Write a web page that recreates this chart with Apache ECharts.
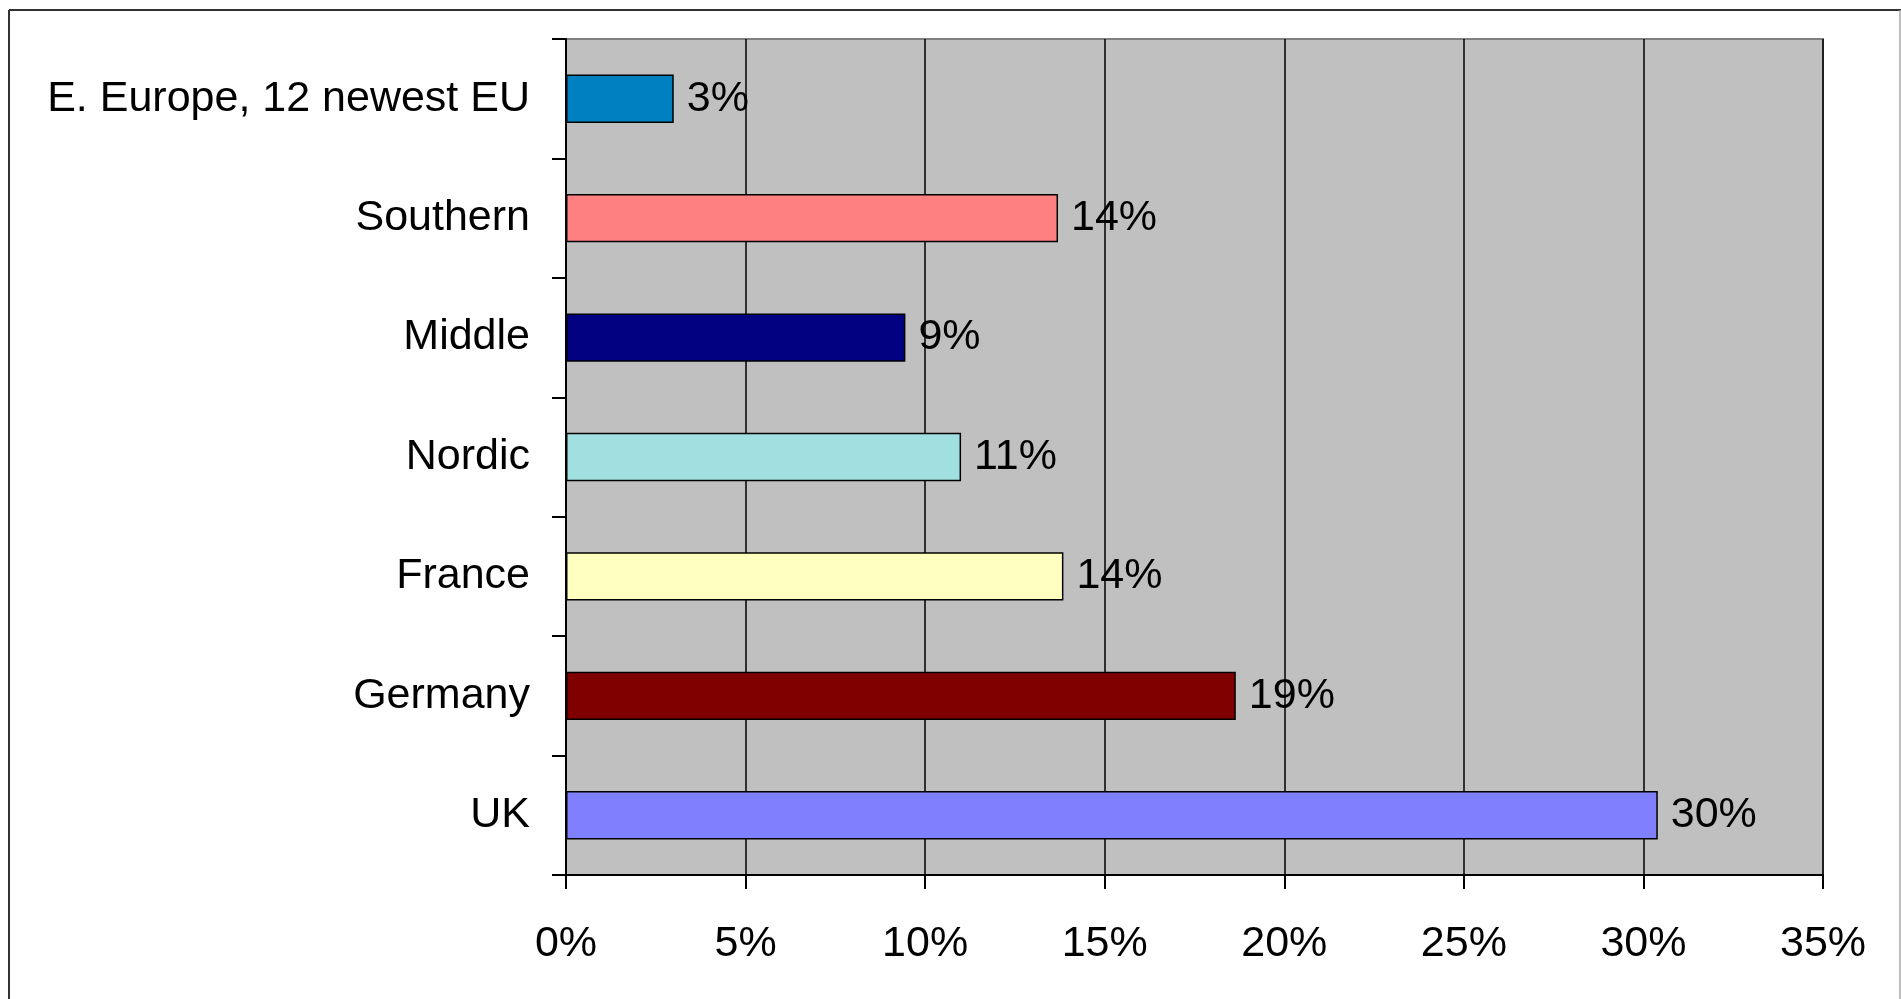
<!DOCTYPE html>
<html>
<head>
<meta charset="utf-8">
<script src="https://cdn.jsdelivr.net/npm/echarts@6/dist/echarts.min.js"></script>
<style>
html,body{margin:0;padding:0;background:#fff;}
#chart{width:1901px;height:999px;}
</style>
</head>
<body>
<div id="chart"></div>
<script>
const categories = ['E. Europe, 12 newest EU', 'Southern', 'Middle', 'Nordic', 'France', 'Germany', 'UK'];
const values = [3.0, 13.7, 9.45, 11.0, 13.85, 18.65, 30.4];
const barColors = ['#0080C0', '#FF8080', '#000080', '#A0E0E0', '#FFFFC0', '#800000', '#8080FF'];
const xTicks = { min: 0, max: 35, interval: 5 };

const chart = echarts.init(document.getElementById('chart'));
const FONT = 'Liberation Sans, Arial, sans-serif';
chart.setOption({
  animation: false,
  backgroundColor: '#ffffff',
  graphic: [
    { type: 'line', shape: { x1: 9, y1: 10, x2: 1901, y2: 10 }, style: { stroke: '#333', lineWidth: 2 } },
    { type: 'line', shape: { x1: 9, y1: 10, x2: 9, y2: 999 }, style: { stroke: '#333', lineWidth: 2 } },
    { type: 'line', shape: { x1: 1900, y1: 10, x2: 1900, y2: 999 }, style: { stroke: '#aaa', lineWidth: 1.5 } }
  ],
  grid: {
    left: 566, top: 39, width: 1257, height: 836,
    show: true, backgroundColor: '#C0C0C0', borderColor: '#808080', borderWidth: 2
  },
  xAxis: {
    type: 'value',
    min: xTicks.min, max: xTicks.max, interval: xTicks.interval,
    axisLine: { show: true, lineStyle: { color: '#000', width: 2 } },
    axisTick: { show: true, length: 14, lineStyle: { color: '#000', width: 2 } },
    splitLine: { show: true, lineStyle: { color: '#000', width: 1.5 } },
    axisLabel: { formatter: '{value}%', color: '#000', fontSize: 43, fontFamily: FONT, margin: 48 }
  },
  yAxis: {
    type: 'category',
    data: categories,
    inverse: true,
    axisLine: { show: true, lineStyle: { color: '#000', width: 2 } },
    axisTick: { show: true, length: 14, lineStyle: { color: '#000', width: 2 } },
    axisLabel: { color: '#000', fontSize: 43, fontFamily: FONT, margin: 36 },
    splitLine: { show: false }
  },
  series: [{
    type: 'bar',
    barWidth: '40.5%',
    data: values.map((v, i) => ({ value: v, itemStyle: { color: barColors[i] } })),
    itemStyle: { borderColor: '#000', borderWidth: 1.5 },
    label: {
      show: true, position: 'right', distance: 13,
      formatter: p => Math.round(p.value) + '%',
      color: '#000', fontSize: 43, fontFamily: FONT
    }
  }]
});
</script>
</body>
</html>
